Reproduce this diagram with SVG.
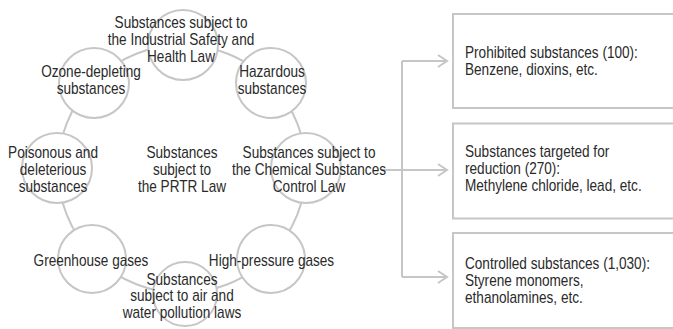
<svg xmlns="http://www.w3.org/2000/svg" width="673" height="329" viewBox="0 0 673 329">
<style>
.t{font-family:"Liberation Sans",Arial,sans-serif;font-size:16px;fill:#2a2a2a}
.c{text-anchor:middle}
.ring{fill:none;stroke:#c6c6c6;stroke-width:2}
.node{fill:#fff;stroke:#c6c6c6;stroke-width:2}
.box{fill:#fff;stroke:#c6c6c6;stroke-width:2}
.ln{fill:none;stroke:#c6c6c6;stroke-width:2}
</style>
<defs>
<marker id="arr" markerWidth="12" markerHeight="14" refX="10" refY="7" orient="auto" markerUnits="userSpaceOnUse">
<path d="M1,1 L10,7 L1,13" fill="none" stroke="#c6c6c6" stroke-width="2"/>
</marker>
</defs>
<rect width="673" height="329" fill="#fff"/>
<circle class="ring" cx="182" cy="169" r="124"/>
<g id="connectors">
<path class="ln" d="M381,170 H447" marker-end="url(#arr)"/>
<path class="ln" d="M402,61 V277"/>
<path class="ln" d="M402,61 H447" marker-end="url(#arr)"/>
<path class="ln" d="M402,277 H447" marker-end="url(#arr)"/>
</g>
<g id="n-industrial"><circle class="node" cx="183" cy="45" r="35"/>
<text class="t c" transform="translate(181 0) scale(0.85 1)"><tspan x="0" y="28">Substances subject to</tspan><tspan x="0" y="45">the Industrial Safety and</tspan><tspan x="0" y="62">Health Law</tspan></text></g>
<g id="n-ozone"><circle class="node" cx="94" cy="83" r="35"/>
<text class="t c" transform="translate(91 0) scale(0.85 1)"><tspan x="0" y="77">Ozone-depleting</tspan><tspan x="0" y="94">substances</tspan></text></g>
<g id="n-hazardous"><circle class="node" cx="271" cy="83" r="35"/>
<text class="t c" transform="translate(272 0) scale(0.85 1)"><tspan x="0" y="77">Hazardous</tspan><tspan x="0" y="94">substances</tspan></text></g>
<g id="n-poisonous"><circle class="node" cx="57" cy="168" r="35"/>
<text class="t c" transform="translate(53 0) scale(0.85 1)"><tspan x="0" y="158">Poisonous and</tspan><tspan x="0" y="175">deleterious</tspan><tspan x="0" y="192">substances</tspan></text></g>
<g id="n-prtr">
<text class="t c" transform="translate(182 0) scale(0.85 1)"><tspan x="0" y="158">Substances</tspan><tspan x="0" y="175">subject to</tspan><tspan x="0" y="192">the PRTR Law</tspan></text></g>
<g id="n-chemical"><circle class="node" cx="306" cy="168" r="35"/>
<text class="t c" transform="translate(309 0) scale(0.85 1)"><tspan x="0" y="158">Substances subject to</tspan><tspan x="0" y="175">the Chemical Substances</tspan><tspan x="0" y="192">Control Law</tspan></text></g>
<g id="n-greenhouse"><circle class="node" cx="92" cy="259" r="34"/>
<text class="t c" transform="translate(91 0) scale(0.85 1)"><tspan x="0" y="266">Greenhouse gases</tspan></text></g>
<g id="n-highpressure"><circle class="node" cx="271" cy="259" r="34"/>
<text class="t c" transform="translate(271.5 0) scale(0.85 1)"><tspan x="0" y="266">High-pressure gases</tspan></text></g>
<g id="n-airwater"><circle class="node" cx="185" cy="294" r="32"/>
<text class="t c" transform="translate(182 0) scale(0.85 1)"><tspan x="0" y="285">Substances</tspan><tspan x="0" y="301.5">subject to air and</tspan><tspan x="0" y="318">water pollution laws</tspan></text></g>
<g id="b-prohibited"><rect class="box" x="453" y="14" width="240" height="94"/>
<text class="t" transform="translate(465 0) scale(0.85 1)"><tspan x="0" y="58.5">Prohibited substances (100):</tspan><tspan x="0" y="75">Benzene, dioxins, etc.</tspan></text></g>
<g id="b-reduction"><rect class="box" x="453" y="123.5" width="240" height="95"/>
<text class="t" transform="translate(465 0) scale(0.85 1)"><tspan x="0" y="157.5">Substances targeted for</tspan><tspan x="0" y="174">reduction (270):</tspan><tspan x="0" y="190.7">Methylene chloride, lead, etc.</tspan></text></g>
<g id="b-controlled"><rect class="box" x="453" y="233" width="240" height="95"/>
<text class="t" transform="translate(465 0) scale(0.85 1)"><tspan x="0" y="269">Controlled substances (1,030):</tspan><tspan x="0" y="285.8">Styrene monomers,</tspan><tspan x="0" y="302.6">ethanolamines, etc.</tspan></text></g>
</svg>
